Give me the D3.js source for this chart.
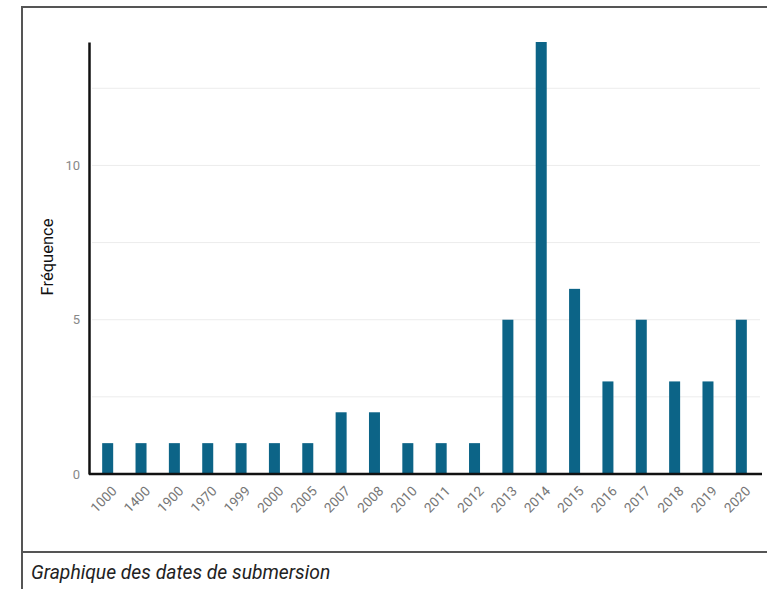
<!DOCTYPE html>
<html><head><meta charset="utf-8">
<script src="https://cdn.jsdelivr.net/npm/d3@7"></script>
<style>body{margin:0;background:#fff;}svg{display:block;font-family:Roboto,"Noto Sans",sans-serif;}</style>
</head><body>
<svg id="c" width="767" height="589"></svg>
<script>
const categories = ["1000","1400","1900","1970","1999","2000","2005","2007","2008","2010","2011","2012","2013","2014","2015","2016","2017","2018","2019","2020"];
const frequencies = [1,1,1,1,1,1,1,2,2,1,1,1,5,14,6,3,5,3,3,5];
const yTicks = [0,5,10];
const gridValues = [2.5,5,7.5,10,12.5];
const yLabel = "Fréquence";
const caption = "Graphique des dates de submersion";

const svg = d3.select("#c");
// frame
svg.append("line").attr("x1",22).attr("x2",767).attr("y1",7).attr("y2",7).attr("stroke","#555").attr("stroke-width",2);
svg.append("line").attr("x1",22).attr("x2",22).attr("y1",6).attr("y2",589).attr("stroke","#555").attr("stroke-width",2);
svg.append("line").attr("x1",22).attr("x2",767).attr("y1",552).attr("y2",552).attr("stroke","#555").attr("stroke-width",2);

const x = d3.scaleBand().domain(categories).range([91,758]).paddingInner(0.67).paddingOuter(0.335);
const y = d3.scaleLinear().domain([0,14]).range([474,42]);

// grid
svg.append("g").selectAll("line").data(gridValues).join("line")
  .attr("x1",92).attr("x2",760).attr("y1",d=>y(d)).attr("y2",d=>y(d))
  .attr("stroke","#ececec").attr("stroke-width",1);

// bars
svg.append("g").selectAll("rect").data(categories).join("rect")
  .attr("x",d=>x(d)).attr("width",x.bandwidth())
  .attr("y",(d,i)=>y(frequencies[i])).attr("height",(d,i)=>y(0)-y(frequencies[i]))
  .attr("fill","#0c6487");

// y axis
const ya = svg.append("g").attr("transform","translate(89,0)")
  .call(d3.axisLeft(y).tickValues(yTicks).tickSize(0).tickPadding(9).tickFormat(d3.format("d")));
ya.select(".domain").attr("stroke","#111").attr("stroke-width",2.5);
ya.selectAll("text").attr("fill","#888").attr("font-size",13).attr("font-family","Roboto,sans-serif");

// x axis
const xa = svg.append("g").attr("transform","translate(0,474)")
  .call(d3.axisBottom(x).tickSize(0).tickPadding(0));
xa.select(".domain").attr("d","M89,0H762").attr("stroke","#111").attr("stroke-width",2.5);
xa.selectAll("text").attr("fill","#777").attr("font-size",13.5).attr("font-family","Roboto,sans-serif")
  .attr("text-anchor","end").attr("dy",null)
  .attr("transform","translate(10,18) rotate(-45)");

// y label
svg.append("text").attr("transform","translate(53,257) rotate(-90)")
  .attr("text-anchor","middle").attr("font-size",16.5).attr("fill","#111").text(yLabel);

// caption
svg.append("text").attr("x",31).attr("y",579).attr("font-size",19.3).attr("font-style","italic")
  .attr("fill","#222").text(caption);
</script>
</body></html>
